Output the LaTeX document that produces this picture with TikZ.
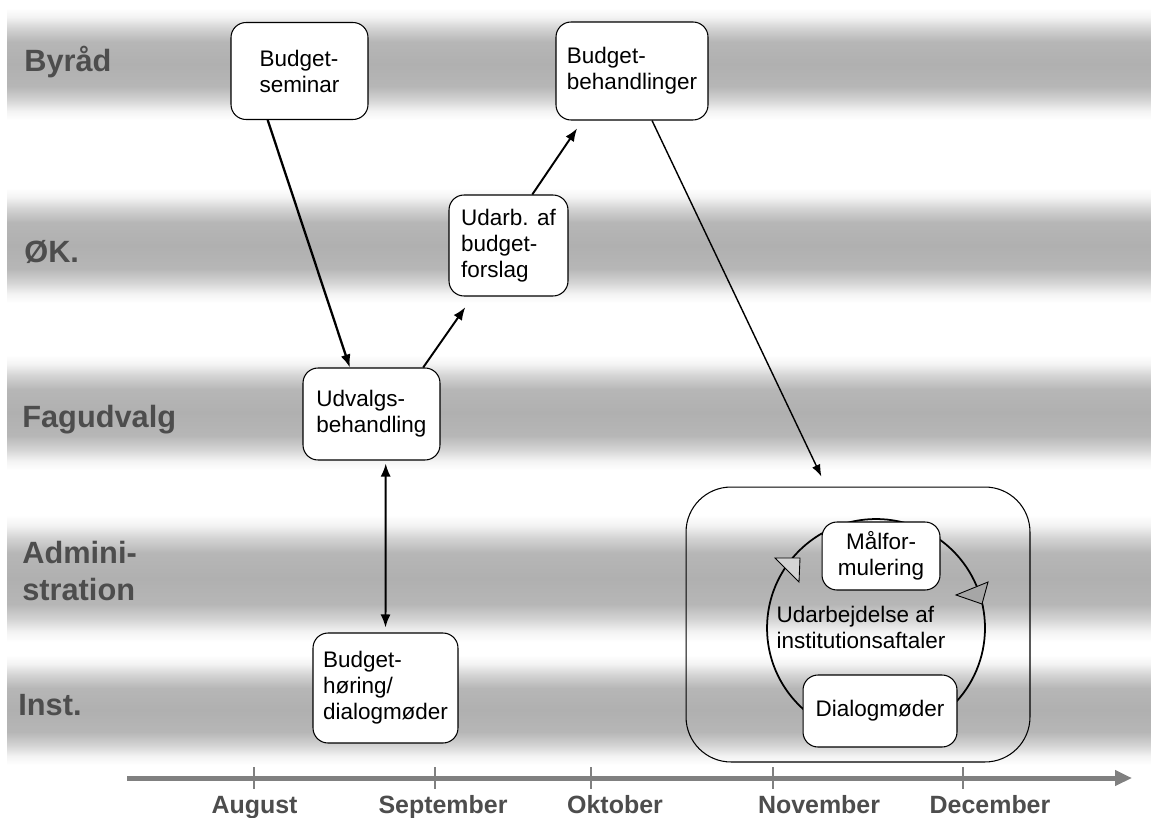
\documentclass[tikz,border=0pt]{standalone}
\usepackage{fontspec}
\setmainfont{Liberation Sans}
\usepackage{tikz}
\usetikzlibrary{arrows.meta}
\definecolor{bandgray}{HTML}{B0B0B0}
\definecolor{labelgray}{HTML}{4D4D4D}
\definecolor{axisgray}{HTML}{808080}
\definecolor{tiplight}{HTML}{D4D4D4}
\definecolor{tipdark}{HTML}{A6A6A6}
\pgfdeclareverticalshading{band}{100bp}{color(0bp)=(white); color(25bp)=(white); color(29bp)=(bandgray!15); color(34bp)=(bandgray!55); color(40bp)=(bandgray!92); color(50bp)=(bandgray); color(60bp)=(bandgray!92); color(66bp)=(bandgray!55); color(71bp)=(bandgray!15); color(75bp)=(white); color(100bp)=(white)}

\begin{document}
\begin{tikzpicture}[x=0.02cm, y=-0.02cm]
    \useasboundingbox (0,0) rectangle (1151,817);
    \foreach \t/\b in {8/120, 188/303, 355/470, 515/642, 655/765}
      \shade[shading=band] (7,\t) rectangle (1151,\b);

    \begin{scope}[every node/.style={anchor=base west, inner sep=0pt, text=labelgray, font=\fontsize{17.5}{21.5}\selectfont\bfseries}]
      \node (BYR) at (24,72) {Byråd};
      \node (OEK) at (24,262) {ØK.};
      \node (FAG) at (22,427) {Fagudvalg};
      \node[anchor=west, align=left] (ADM) at (22,571) {Admini-\\stration};
      \node (INS) at (18,715) {Inst.};
    \end{scope}

    \node[draw, rounded corners=0.9cm, line width=0.6pt, minimum width=6.88cm, minimum height=5.5cm] (UI) at (858,624.5) {};
    \coordinate (CY) at (876,628);
    \draw[line width=1pt] (CY) circle[radius=2.18cm];
    \draw[fill=tiplight, line width=0.5pt] (775,558) -- (800,558) -- (799,582) -- cycle;
    \draw[fill=tipdark, line width=0.5pt] (956,595) -- (988,582) -- (982,604) -- cycle;
    \node[align=left, font=\fontsize{12.8}{14.8}\selectfont] (UT) at (861,627) {Udarbejdelse af\\institutionsaftaler};

    \begin{scope}[every node/.style={draw, fill=white, rounded corners=0.3cm, line width=0.6pt, align=left, font=\fontsize{12.8}{14.8}\selectfont}]
      \node[minimum width=2.74cm, minimum height=1.94cm] (BS) at (299.5,71) {Budget-\\seminar};
      \node[minimum width=3.04cm, minimum height=1.96cm] (BB) at (632,71) {Budget-\\behandlinger};
      \node[minimum width=2.38cm, minimum height=2.02cm] (UA) at (508.5,245.5) {Udarb. af\\budget-\\forslag};
      \node[minimum width=2.74cm, minimum height=1.84cm] (UV) at (371.5,414) {Udvalgs-\\behandling};
      \node[minimum width=2.9cm, minimum height=2.2cm] (BH) at (385.5,688) {Budget-\\høring/\\dialogmøder};
      \node[align=center, minimum width=2.36cm, minimum height=1.36cm] (MF) at (881,556) {Målfor-\\mulering};
      \node[minimum width=3.08cm, minimum height=1.44cm] (DM) at (880,711) {Dialogmøder};
    \end{scope}

    \draw[line width=1.3pt, -{Latex[length=0.26cm, width=0.2cm]}] (BS.237) -- (UV.115);
    \draw[line width=1.1pt, -{Latex[length=0.26cm, width=0.2cm]}, shorten >=0.26cm] (UV.42) -- (UA.235);
    \draw[line width=1.1pt, -{Latex[length=0.26cm, width=0.2cm]}, shorten >=0.19cm] (UA.65) -- (BB.225);
    \draw[line width=0.8pt, -{Latex[length=0.24cm, width=0.18cm]}, shorten >=0.22cm] (BB.292) -- (UI.103);
    \draw[line width=1.1pt, {Latex[length=0.26cm, width=0.2cm]}-{Latex[length=0.26cm, width=0.2cm]}, shorten <=0.06cm, shorten >=0.1cm] (UV.287) -- (BH.north);

    \coordinate (AX0) at (127,778);
    \coordinate (AX1) at (1132,778);
    \draw[axisgray, line width=0.1cm, -{Triangle[length=0.34cm, width=0.3cm]}] (AX0) -- (AX1);
    \foreach \x in {254,435,591,773,963}
      \draw[axisgray, line width=0.04cm] (\x,767) -- (\x,789);

    \begin{scope}[every node/.style={anchor=base, inner sep=0pt, text=labelgray, font=\fontsize{14.2}{16}\selectfont\bfseries}]
      \node (AUG) at (254.5,813) {August};
      \node (SEP) at (443,813) {September};
      \node (OKT) at (615,813) {Oktober};
      \node (NOV) at (819,813) {November};
      \node (DEC) at (990,813) {December};
    \end{scope}

  \end{tikzpicture}
\end{document}
